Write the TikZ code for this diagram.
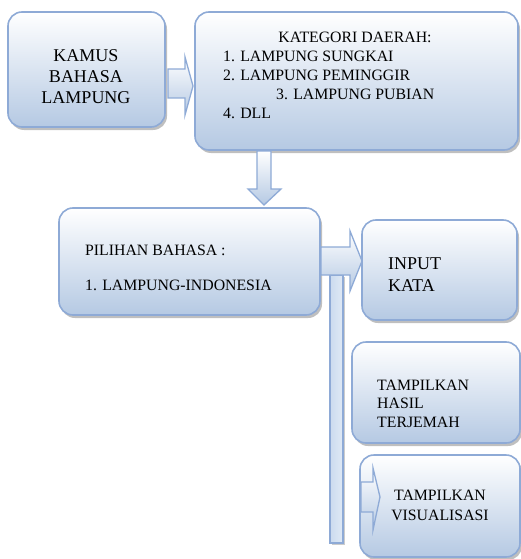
\documentclass[tikz,border=0pt]{standalone}
\usepackage{fontspec}
\setmainfont{Liberation Serif}
\usetikzlibrary{shadows,calc}
\definecolor{bord}{HTML}{8EAAD6}
\definecolor{fillbot}{HTML}{B5C9E3}
\definecolor{barfill}{HTML}{CBDBEF}
\tikzset{
  box/.style={draw=bord, line width=1.6pt, rounded corners=14pt, top color=white, bottom color=fillbot,
    drop shadow={shadow xshift=2pt, shadow yshift=-3pt, fill=black, opacity=0.25}},
  blk/.style={draw=bord, line width=1.3pt, top color=white, bottom color=fillbot, line join=miter},
  bar/.style={draw=bord, line width=1.3pt, left color=barfill, right color=white!40!barfill,
    drop shadow={shadow xshift=1.5pt, shadow yshift=-2pt, fill=black, opacity=0.2}},
  lbl/.style={inner sep=0pt, font=\fontsize{15.8}{19}\selectfont, align=left},
}
\begin{document}
\begin{tikzpicture}[x=1pt,y=-1pt]
\useasboundingbox (0,0) rectangle (520,559);
% boxes
\node[box, minimum width=157pt, minimum height=115pt] (kamus) at (86.5,69.5) {};
\node[box, minimum width=323pt, minimum height=138pt] (kat) at (356.5,81) {};
\node[box, minimum width=261pt, minimum height=107pt] (pil) at (189.5,261.5) {};
\node[box, minimum width=155pt, minimum height=100pt] (inp) at (439.5,270) {};
\node[box, minimum width=168pt, minimum height=101pt] (hasil) at (436,392.5) {};
% vertical bar (drawn before the last box)
\node[bar, inner sep=0pt, minimum width=13pt, minimum height=268pt] (vbar) at (336.5,409) {};
\node[box, minimum width=160pt, minimum height=102pt] (vis) at (440,506) {};
% texts (base anchor of a multi-line node = last line)
\node[inner sep=0pt, font=\fontsize{18}{20.5}\selectfont, align=center, anchor=base] (t1) at (86,103) {KAMUS\\BAHASA\\LAMPUNG};
\node[lbl, anchor=base] (t2a) at (355,43) {KATEGORI DAERAH:};
\node[lbl, anchor=base west] (t2b) at (223,62) {1. LAMPUNG SUNGKAI};
\node[lbl, anchor=base west] (t2c) at (223,81) {2. LAMPUNG PEMINGGIR};
\node[lbl, anchor=base west] (t2d) at (276,100) {3. LAMPUNG PUBIAN};
\node[lbl, anchor=base west] (t2e) at (223,118) {4. DLL};
\node[lbl, anchor=base west] (t3a) at (85,255) {PILIHAN BAHASA :};
\node[lbl, anchor=base west] (t3b) at (85,290) {1. LAMPUNG-INDONESIA};
\node[inner sep=0pt, font=\fontsize{18}{22}\selectfont, align=left, anchor=base west] (t4) at (388,291) {INPUT\\KATA};
\node[lbl, anchor=base west, font=\fontsize{15.8}{18.5}\selectfont] (t5) at (377,427) {TAMPILKAN\\HASIL\\TERJEMAH};
\node[lbl, align=center, anchor=base, font=\fontsize{15.8}{20}\selectfont] (t6) at (440,520) {TAMPILKAN\\VISUALISASI};
% block arrows
\draw[blk] (168,69) -- (185,69) -- (185,57) -- (193,86) -- (185,115) -- (185,98) -- (168,98) -- cycle;
\draw[blk] (257,151) -- (271,151) -- (271,189) -- (281,189) -- (264,205) -- (248,189) -- (257,189) -- cycle;
\draw[blk] (321,247) -- (350,247) -- (350,231) -- (362,261) -- (350,291) -- (350,275) -- (321,275) -- cycle;
\draw[blk] (361,482) -- (373,482) -- (373,468) -- (380,497) -- (373,530) -- (373,512) -- (361,512) -- cycle;
\end{tikzpicture}
\end{document}
